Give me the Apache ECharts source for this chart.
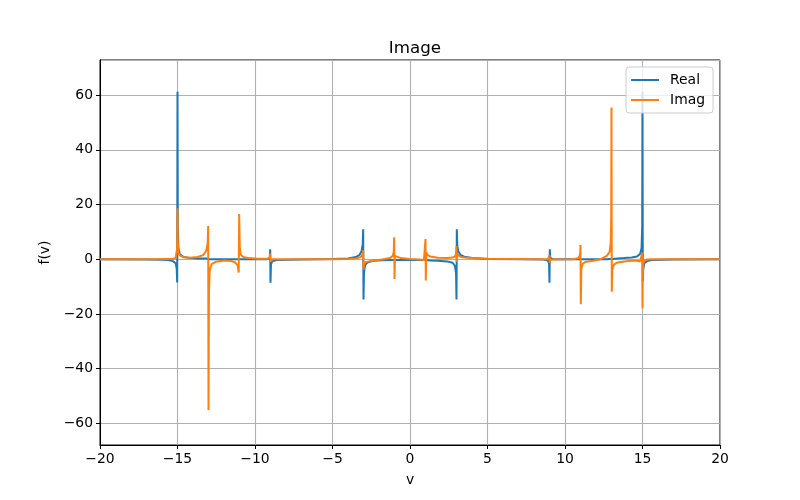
<!DOCTYPE html>
<html>
<head>
<meta charset="utf-8">
<script src="https://cdn.jsdelivr.net/npm/echarts@6/dist/echarts.min.js"></script>
<style>
    html, body {margin: 0; padding: 0; background: #fff;}
    #chart {width: 800px; height: 500px;}
</style>
</head>
<body>
<div id="chart"></div>
<script>
// v values (sampled densely round each resonance)
var vs = [
    -20, -17, -16, -15.6, -15.3, -15.12, -15.05, -15.02, -15.0, -14.98, -14.94, -14.85, -14.6, -14.2,
    -13.7, -13.35, -13.15, -13.05, -13.02, -13.0, -12.97, -12.92, -12.8, -12.5, -12.0,
    -11.5, -11.25, -11.12, -11.05, -11.02, -10.98, -10.92, -10.75, -10.4,
    -9.8, -9.2, -9.05, -9.02, -9.0, -8.97, -8.9, -8.6,
    -7, -5, -4, -3.5, -3.25, -3.12, -3.05, -3.02, -3.0, -2.97, -2.9, -2.75, -2.4,
    -1.8, -1.3, -1.12, -1.05, -1.02, -1.0, -0.97, -0.9, -0.6,
    0, 0.6, 0.9, 0.97, 1.0, 1.02, 1.05, 1.12, 1.3, 1.8,
    2.4, 2.75, 2.9, 2.97, 3.0, 3.02, 3.05, 3.12, 3.25, 3.5, 4, 5,
    7, 8.6, 8.9, 8.97, 9.0, 9.02, 9.05, 9.2,
    10.5, 10.85, 10.95, 10.98, 11.0, 11.02, 11.05, 11.12, 11.3, 11.8,
    12.3, 12.7, 12.88, 12.95, 12.98, 13.0, 13.02, 13.05, 13.15, 13.4, 13.8,
    14.3, 14.65, 14.85, 14.94, 14.98, 15.0, 15.02, 15.05, 15.12, 15.3, 15.6, 17, 20
];
var realVals = [
    0, -0.1, -0.2, -0.3, -0.7, -1.5, -3.5, -8.5, 61.2, 12, 4, 1.8, 0.8, 0.4,
    0.3, 0.3, 0.3, 0.3, 0.2, 0, -0.1, -0.1, 0, 0, 0,
    0, 0, 0, 0, 0, 0, 0, 0, 0,
    0, 0, 0.5, 3.6, -8.6, -2, -0.8, -0.3,
    -0.1, 0.1, 0.3, 0.8, 1.6, 3, 5.5, 10.9, -14.7, -5, -2.2, -1.2, -0.6,
    -0.4, -0.3, -0.3, -0.3, -0.3, -0.3, -0.3, -0.3, -0.3,
    -0.2, -0.3, -0.3, -0.3, -0.3, -0.3, -0.4, -0.4, -0.5, -0.6,
    -0.8, -1.3, -2.5, -5, -14.7, 10.9, 5, 2.8, 1.6, 0.9, 0.4, 0.1,
    0, -0.1, -0.5, -1.5, -8.6, 3.6, 0.5, 0,
    0, 0, 0, 0, 0, 0, 0, 0, 0, 0,
    0, 0, 0.1, 0.1, 0.1, 0.1, 0.1, 0.1, 0.2, 0.3, 0.4,
    0.6, 1.0, 2.0, 4, 12, 61.2, -8, -3.5, -1.5, -0.7, -0.3, -0.1, 0
];
var imagVals = [
    0, 0, 0.1, 0.1, 0.2, 0.4, 1.0, 4, 18.6, 6, 2.5, 1.4, 0.7, 0.5,
    0.8, 1.5, 3, 6, 12.1, -55.1, -12, -4, -1.8, -0.9, -0.5,
    -0.7, -1.3, -2.3, -4.9, 16.5, 4, 1.6, 0.8, 0.4,
    0.2, 0.2, 0.5, 2.1, -0.9, -0.3, 0, 0,
    0, 0, 0.1, 0.3, 0.6, 1.1, 2, 3.4, -3.9, -2, -1.2, -0.9, -0.6,
    -0.1, 0.4, 1.2, 2.5, 8.0, -7.2, 1.2, 0.7, 0.4,
    0.1, -0.1, -0.3, -0.8, 7.4, -7.8, 2.5, 1.6, 1.0, 0.5,
    0.4, 0.6, 1.0, 1.8, 4.8, -1.0, 1.8, 1.2, 0.9, 0.6, 0.4, 0.2,
    0.1, 0, 0, 0.2, 1.5, -1.4, -0.3, -0.1,
    0, 0.4, 1.2, 2.5, 5.2, -16.5, -4, -1.8, -1.0, -0.6,
    0, 1.2, 2.7, 6, 14, 55.4, -11.9, -4, -2, -1.2, -0.8,
    -0.6, -0.6, -0.8, -1.2, 2.4, -17.9, -5, -1.5, -0.4, -0.1, 0, 0, 0
];
var seriesNames = ['Real', 'Imag'];
var xTicks = {min: -20, max: 20, step: 5};
var yRange = {min: -67.9, max: 72.8, step: 20};

var FONT = 'DejaVu Sans';
function minus(v) {
    return String(v).replace('-', '\u2212');
}
function pairs(ys) {
    var out = [];
    for (var i = 0; i < vs.length; i++) {
        out.push([vs[i], ys[i]]);
    }
    return out;
}

var myChart = echarts.init(document.getElementById('chart'), null, {renderer: 'canvas'});
myChart.setOption({
    animation: false,
    backgroundColor: '#fff',
    color: ['#1f77b4', '#ff7f0e'],
    title: {
        text: 'Image',
        left: 410,
        top: 35,
        textAlign: 'center',
        textStyle: {fontFamily: FONT, fontSize: 16.7, fontWeight: 'normal', color: '#000'}
    },
    grid: {
        left: 100,
        right: 80,
        top: 60,
        bottom: 55,
        show: true,
        borderColor: '#000',
        borderWidth: 1,
        backgroundColor: 'transparent'
    },
    legend: {
        data: [
            {name: seriesNames[0], icon: 'rect'},
            {name: seriesNames[1], icon: 'rect'}
        ],
        orient: 'vertical',
        right: 87,
        top: 67,
        padding: [6, 8, 6, 5],
        itemWidth: 28,
        itemHeight: 2,
        itemGap: 6,
        backgroundColor: 'rgba(255,255,255,0.8)',
        borderColor: '#cccccc',
        borderWidth: 1,
        borderRadius: 3,
        textStyle: {fontFamily: FONT, fontSize: 13.9, color: '#000', padding: [0, 0, 0, 6]}
    },
    xAxis: {
        type: 'value',
        min: xTicks.min,
        max: xTicks.max,
        interval: xTicks.step,
        name: 'v',
        nameLocation: 'middle',
        nameGap: 28,
        nameTextStyle: {fontFamily: FONT, fontSize: 13.9, color: '#000'},
        axisLine: {show: true, onZero: false, lineStyle: {color: '#000', width: 1}},
        axisTick: {show: true, length: 4, lineStyle: {color: '#000'}},
        axisLabel: {
            fontFamily: FONT, fontSize: 13.9, color: '#000', margin: 7,
            formatter: function (v) { return minus(v); }
        },
        splitLine: {show: true, lineStyle: {color: '#b0b0b0', width: 1.1}}
    },
    yAxis: {
        type: 'value',
        min: yRange.min,
        max: yRange.max,
        minInterval: yRange.step,
        maxInterval: yRange.step,
        name: 'f(v)',
        nameLocation: 'middle',
        nameRotate: 90,
        nameGap: 44,
        nameTextStyle: {fontFamily: FONT, fontSize: 13.9, color: '#000'},
        axisLine: {show: true, onZero: false, lineStyle: {color: '#000', width: 1}},
        axisTick: {show: true, length: 4, lineStyle: {color: '#000'}},
        axisLabel: {
            fontFamily: FONT, fontSize: 13.9, color: '#000', margin: 7,
            showMinLabel: false, showMaxLabel: false,
            formatter: function (v) { return minus(v); }
        },
        splitLine: {show: true, lineStyle: {color: '#b0b0b0', width: 1.1}}
    },
    series: [
        {
            name: seriesNames[0],
            type: 'line',
            data: pairs(realVals),
            showSymbol: false,
            lineStyle: {width: 2},
            z: 2
        },
        {
            name: seriesNames[1],
            type: 'line',
            data: pairs(imagVals),
            showSymbol: false,
            lineStyle: {width: 2},
            z: 3
        }
    ]
});
</script>
</body>
</html>
